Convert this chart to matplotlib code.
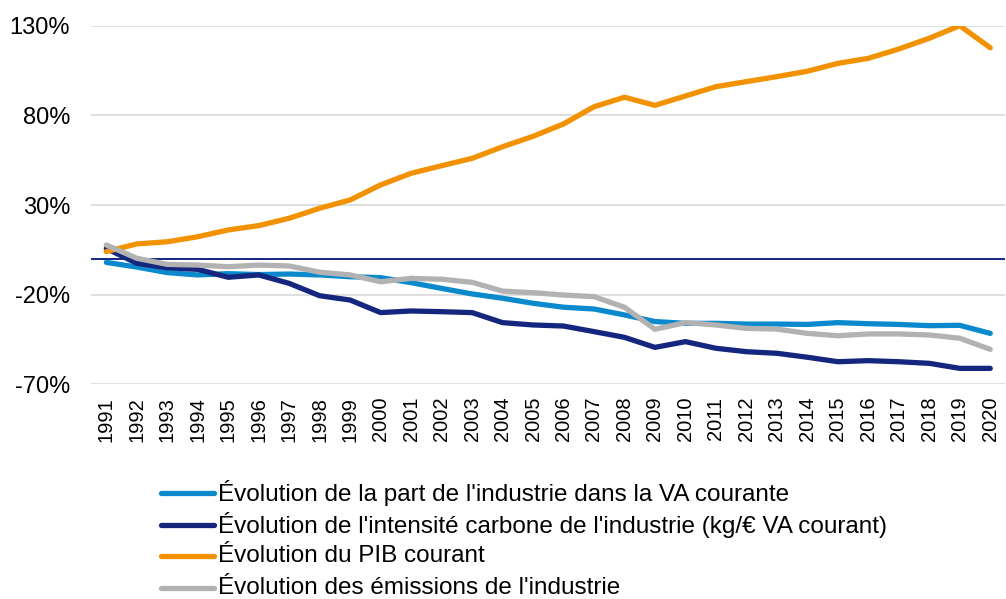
import numpy as np
import matplotlib.pyplot as plt
from matplotlib.lines import Line2D
from matplotlib.ticker import FuncFormatter

plt.rcParams['font.family'] = ['Liberation Sans', 'DejaVu Sans']

years = list(range(1991, 2021))

# évolution depuis 1991, en %
part_industrie = [-2.0, -4.6, -7.7, -9.0, -8.3, -8.8, -8.5, -9.0, -10.0, -10.5,
                  -13.3, -16.5, -19.6, -22.0, -24.8, -27.0, -28.0, -31.3, -35.0, -36.0,
                  -36.0, -36.4, -36.4, -36.6, -35.6, -36.2, -36.6, -37.3, -37.1, -41.6]
intensite_carbone = [5.8, -2.5, -5.0, -5.9, -10.3, -9.0, -13.7, -20.6, -23.0, -30.0,
                     -29.1, -29.5, -30.0, -35.6, -36.9, -37.5, -40.6, -43.8, -49.4, -46.2,
                     -49.9, -51.8, -52.7, -54.9, -57.4, -56.8, -57.4, -58.3, -61.1, -61.1]
pib_courant = [4.0, 8.3, 9.5, 12.3, 16.1, 18.5, 22.6, 28.2, 32.8, 41.2,
               47.7, 51.9, 56.0, 62.5, 68.3, 75.2, 84.8, 90.1, 85.6, 90.8,
               96.0, 98.8, 101.6, 104.6, 109.0, 111.8, 117.0, 123.0, 130.0, 117.7]
emissions = [7.7, 0.3, -3.1, -3.5, -4.4, -3.5, -4.0, -7.5, -9.0, -12.8,
             -10.9, -11.4, -13.1, -18.0, -18.9, -20.2, -21.1, -27.0, -39.3, -35.6,
             -36.9, -38.8, -39.2, -41.6, -42.9, -41.9, -41.9, -42.5, -44.3, -50.5]

series = [
    ("Évolution de la part de l'industrie dans la VA courante", part_industrie, "#0a8acd"),
    ("Évolution de l'intensité carbone de l'industrie (kg/€ VA courant)", intensite_carbone, "#15267f"),
    ("Évolution du PIB courant", pib_courant, "#f39200"),
    ("Évolution des émissions de l'industrie", emissions, "#b2b2b2"),
]

W, H = 1006, 599
fig = plt.figure(figsize=(W / 100, H / 100), dpi=100)
ax = fig.add_axes([0.0905, 0.3584, 0.909, 0.5987])

ax.set_yticks([-70, -20, 30, 80, 130])
ax.grid(axis="y", color="#d9d9d9", linewidth=1.2)
ax.set_axisbelow(True)
ax.axhline(0, color="#15267f", linewidth=1.4, zorder=1.5)

for label, vals, color in series:
    ax.plot(years, vals, color=color, linewidth=3.8, label=label,
            solid_capstyle="round", solid_joinstyle="round")

ax.set_xlim(1990.5, 2020.5)
ax.set_ylim(-70, 130)
ax.set_xticks(years)
ax.set_xticklabels([str(y) for y in years], rotation=90, fontsize=14.5)
ax.yaxis.set_major_formatter(FuncFormatter(lambda v, p: f"{v:.0f}%"))
ax.tick_params(axis="y", length=0, pad=15, labelsize=17)
ax.tick_params(axis="x", length=0, pad=9)
for s in ax.spines.values():
    s.set_visible(False)

# legend drawn by hand so the rows are evenly spaced
row_y = [493, 524.5, 556, 587.5]
for (label, vals, color), yp in zip(series, row_y):
    yf = 1 - yp / H
    fig.add_artist(Line2D([161 / W, 214 / W], [yf, yf], color=color, linewidth=3.8,
                          solid_capstyle="round", transform=fig.transFigure))
    fig.text(218 / W, yf, label, fontsize=17.5, va="center", ha="left")

fig.savefig("out.png", dpi=100)
